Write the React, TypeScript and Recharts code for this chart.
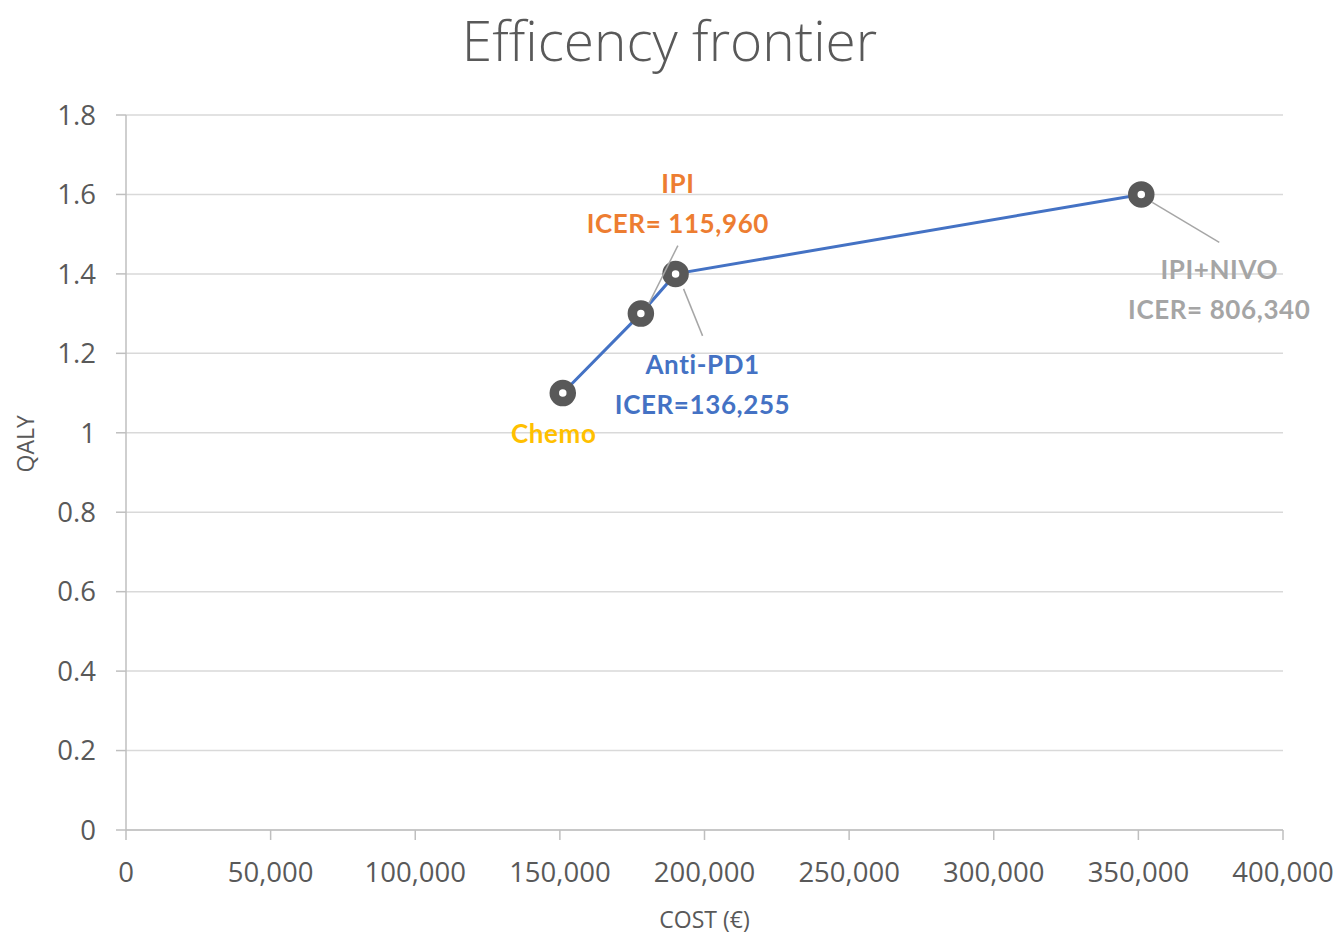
import React from "react";
import {
  LineChart,
  Line,
  XAxis,
  YAxis,
  CartesianGrid,
  LabelList,
} from "recharts";

// strategies on the frontier
const strategies = ["Chemo", "IPI", "Anti-PD1", "IPI+NIVO"];
const costs = [151000, 178000, 190000, 351000];
const qalys = [1.1, 1.3, 1.4, 1.6];
const icerTexts = ["", "ICER= 115,960", "ICER=136,255", "ICER= 806,340"];

const xTicks = [0, 50000, 100000, 150000, 200000, 250000, 300000, 350000, 400000];
const yTicks = [0, 0.2, 0.4, 0.6, 0.8, 1, 1.2, 1.4, 1.6, 1.8];

const labelColors = ["#FFC000", "#ED7D31", "#4472C4", "#A5A5A5"];

// where each data label sits relative to its point (dx, dy of first line) and leader line
const labelLayout = [
  { dx: -9, dy: 40, leader: null },
  { dx: 37, dy: -131, leader: [37, -68, 8, -10] },
  { dx: 27, dy: 90, leader: [8, 15, 27, 62] },
  { dx: 78, dy: 75, leader: [11, 8, 78, 48] },
];

const data = strategies.map((name, i) => ({
  name,
  cost: costs[i],
  qaly: qalys[i],
}));

const fmtCost = (v: number) => v.toLocaleString("en-US");
const fmtQaly = (v: number) => String(Math.round(v * 10) / 10);

const RingDot = (props: any) => {
  const { cx, cy, index } = props;
  return (
    <circle
      key={"dot" + index}
      cx={cx}
      cy={cy}
      r={8.5}
      fill="#fff"
      stroke="#595959"
      strokeWidth={9.5}
    />
  );
};

const PointLabel = (props: any) => {
  const { x, y, index } = props;
  const lay = labelLayout[index];
  const color = labelColors[index];
  const tx = x + lay.dx;
  const ty = y + lay.dy;
  const txt = {
    textAnchor: "middle" as const,
    dominantBaseline: "central" as const,
    fill: color,
    fontFamily: "Lato",
    fontWeight: "bold",
    fontSize: 26,
    letterSpacing: 0.6,
  };
  return (
    <g>
      {lay.leader && (
        <line
          x1={x + lay.leader[0]}
          y1={y + lay.leader[1]}
          x2={x + lay.leader[2]}
          y2={y + lay.leader[3]}
          stroke="#A6A6A6"
          strokeWidth={1.5}
        />
      )}
      <text x={tx} y={ty} {...txt}>
        {strategies[index]}
      </text>
      {icerTexts[index] && (
        <text x={tx} y={ty + 40} {...txt}>
          {icerTexts[index]}
        </text>
      )}
    </g>
  );
};

export default function App() {
  const tickStyle = { fill: "#595959", fontSize: 27.5, fontFamily: "Open Sans" };
  return (
    <div
      style={{
        position: "absolute",
        left: 0,
        top: 0,
        width: 1339,
        height: 936,
        background: "#fff",
      }}
    >
      <div
        style={{
          position: "absolute",
          top: 2,
          left: 0,
          width: 1339,
          textAlign: "center",
          fontFamily: "Open Sans",
          fontWeight: 300,
          fontSize: 55,
          color: "#595959",
        }}
      >
        Efficency frontier
      </div>
      <LineChart
        width={1339}
        height={936}
        data={data}
        margin={{ top: 115, right: 56, bottom: 0, left: 0 }}
      >
        <CartesianGrid vertical={false} stroke="#D9D9D9" strokeWidth={1.5} />
        <XAxis
          dataKey="cost"
          type="number"
          domain={[0, 400000]}
          ticks={xTicks}
          tickFormatter={fmtCost}
          height={106}
          tickSize={10}
          tickMargin={22}
          stroke="#BFBFBF"
          strokeWidth={1.5}
          tick={tickStyle}
          interval={0}
          label={{
            value: "COST (€)",
            position: "insideBottom",
            offset: 8,
            fill: "#595959",
            fontSize: 23,
            fontFamily: "Open Sans",
          }}
        />
        <YAxis
          dataKey="qaly"
          type="number"
          domain={[0, 1.8]}
          ticks={yTicks}
          tickFormatter={fmtQaly}
          width={126}
          tickSize={10}
          tickMargin={20}
          stroke="#BFBFBF"
          strokeWidth={1.5}
          tick={tickStyle}
          interval={0}
          label={{
            value: "QALY",
            angle: -90,
            position: "insideLeft",
            offset: 26,
            fill: "#595959",
            fontSize: 23,
            fontFamily: "Open Sans",
          }}
        />
        <Line
          dataKey="qaly"
          stroke="#4472C4"
          strokeWidth={3}
          dot={<RingDot />}
          activeDot={false}
          isAnimationActive={false}
        >
          <LabelList dataKey="qaly" content={<PointLabel />} />
        </Line>
      </LineChart>
    </div>
  );
}
